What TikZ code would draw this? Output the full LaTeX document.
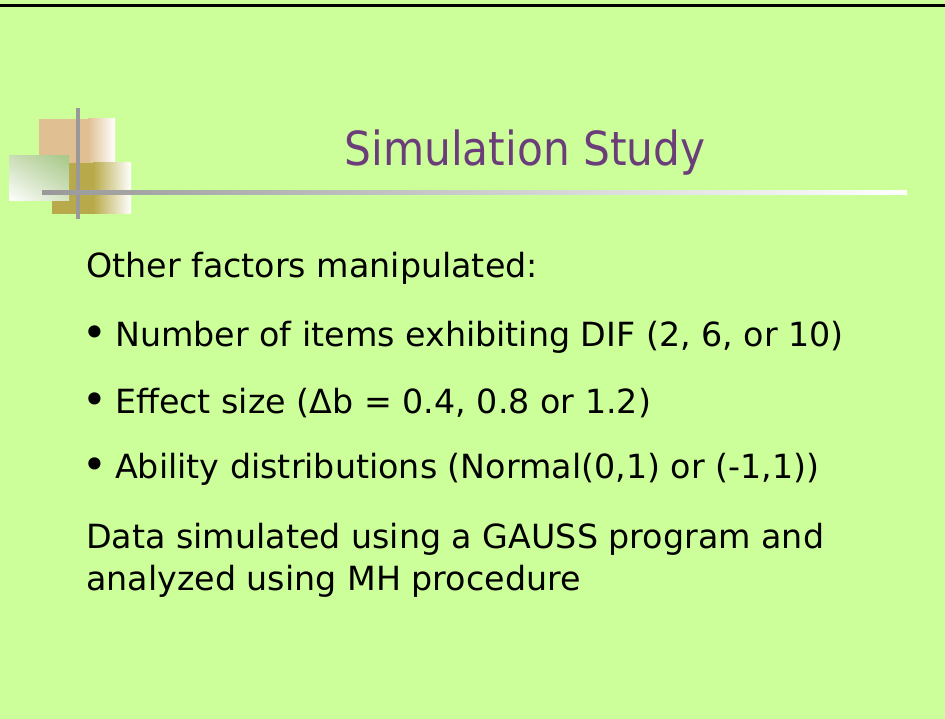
\documentclass[tikz,border=0pt]{standalone}
\usepackage{fontspec}
\setmainfont{DejaVu Sans}
\newfontfamily\titlefont{DejaVu Sans Condensed}
\usetikzlibrary{shadings}
\definecolor{bg}{RGB}{204,255,153}
\definecolor{titlepurple}{RGB}{107,62,122}
\definecolor{tan}{RGB}{224,192,146}
\definecolor{olive}{RGB}{184,170,74}
\definecolor{sage}{RGB}{168,200,136}
\definecolor{rulegray}{RGB}{153,153,153}
\tikzset{
  bodytext/.style={anchor=base west, inner sep=0pt, font=\fontsize{33.3}{40}\selectfont, text=black},
  bulletmark/.style={anchor=center, inner sep=0pt, font=\fontsize{42}{48}\selectfont, text=black},
  titletext/.style={anchor=base, inner sep=0pt, font=\titlefont\fontsize{47}{56}\selectfont, text=titlepurple}
}
\begin{document}
\begin{tikzpicture}[x=1pt,y=-1pt]
\fill[bg] (0,0) rectangle (945,719);
\useasboundingbox (0,0) rectangle (945,719);
\fill[black] (0,4.5) rectangle (945,7.5);
% decoration
\fill[tan] (39,119) rectangle (88,163);
\shade[left color=tan, right color=white] (88,119) rectangle (115,163);
\fill[olive] (52,163) rectangle (93,214);
\shade[left color=olive, right color=white] (93,163) rectangle (131,214);
\shade[upper left=sage!60!white, upper right=sage, lower left=white, lower right=sage!50!white] (9,156) rectangle (69,201);
\fill[rulegray] (76,108) rectangle (80,219);
\shade[left color=rulegray, right color=white] (42,191) rectangle (907,195);
% title
\node[titletext] (title) at (525,166) {Simulation Study};
% body
\node[bodytext] (intro) at (86,278) {Other factors manipulated:};
\node[bulletmark] (m1) at (94.5,337) {•};
\node[bodytext] (b1) at (115,346) {Number of items exhibiting DIF (2, 6, or 10)};
\node[bulletmark] (m2) at (94.5,404) {•};
\node[bodytext] (b2) at (115,413) {Effect size (Δb = 0.4, 0.8 or 1.2)};
\node[bulletmark] (m3) at (94.5,469) {•};
\node[bodytext] (b3) at (115,478) {Ability distributions (Normal(0,1) or (-1,1))};
\node[bodytext] (d1) at (86,548) {Data simulated using a GAUSS program and};
\node[bodytext] (d2) at (86,590) {analyzed using MH procedure};
\end{tikzpicture}
\end{document}
